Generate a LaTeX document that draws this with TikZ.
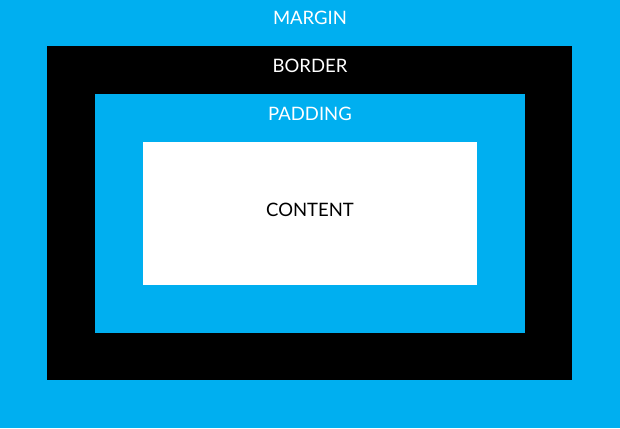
\documentclass[tikz,border=0pt]{standalone}
\usepackage{fontspec}
\setmainfont{Lato}
\usepackage{tikz}
\usepackage{xcolor}
\definecolor{boxcyan}{RGB}{0,175,240}

\begin{document}
\begin{tikzpicture}[x=1pt,y=-1pt]
              \tikzset{lbl/.style={font=\fontsize{18.5}{22}\selectfont}}
              \coordinate (M1) at (0,0);
              \coordinate (M2) at (620,428);
              \coordinate (B1) at (47,46);
              \coordinate (B2) at (572,380);
              \coordinate (P1) at (95,94);
              \coordinate (P2) at (525,333);
              \coordinate (C1) at (143,142);
              \coordinate (C2) at (477,285);
              \fill[boxcyan] (M1) rectangle (M2);
              \fill[black] (B1) rectangle (B2);
              \fill[boxcyan] (P1) rectangle (P2);
              \fill[white] (C1) rectangle (C2);
              \node[lbl,white] (margin) at (310,17.5) {MARGIN};
              \node[lbl,white] (border) at (310,65.5) {BORDER};
              \node[lbl,white] (padding) at (310,113.5) {PADDING};
              \node[lbl,black] (content) at (310,209.5) {CONTENT};
       \end{tikzpicture}
\end{document}
